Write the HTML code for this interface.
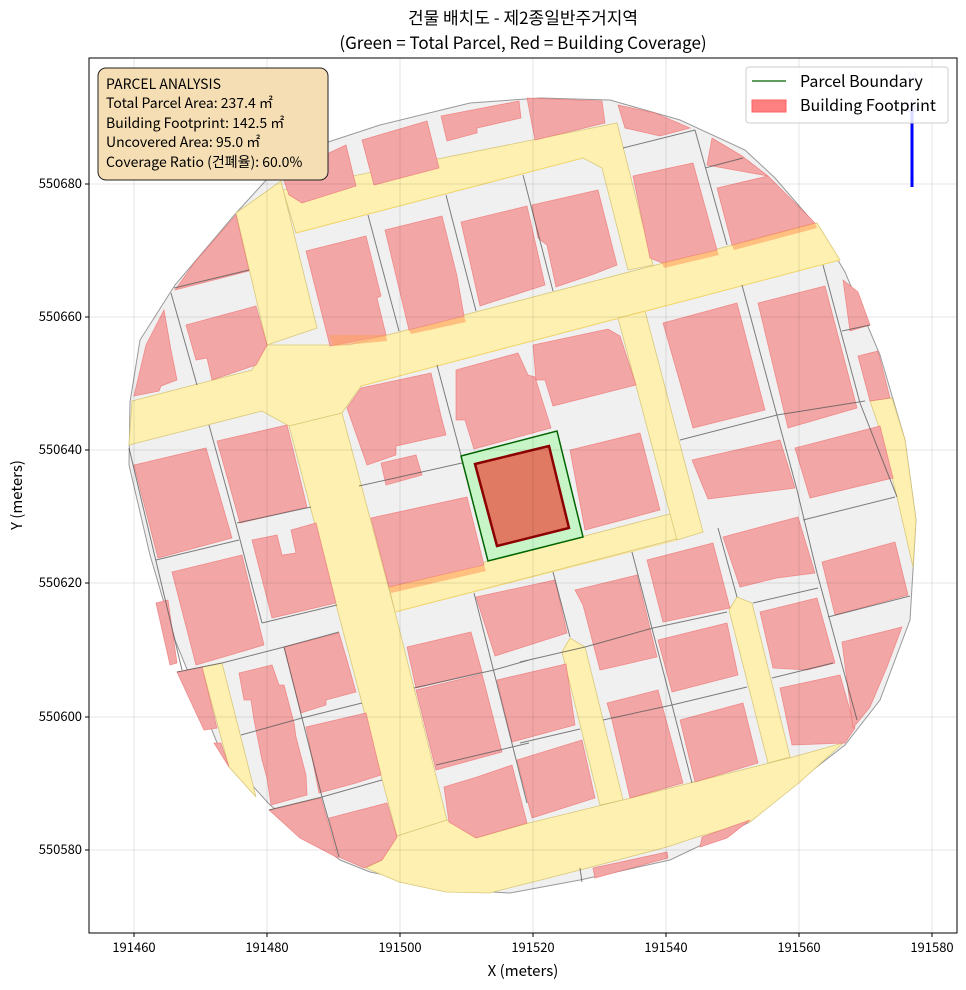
<!DOCTYPE html>
<html><head><meta charset="utf-8"><style>
html,body{margin:0;padding:0;background:#fff;}
svg{display:block;font-family:"Noto Sans CJK KR","Liberation Sans",sans-serif;}
</style></head><body>
<svg width="966" height="990" viewBox="0 0 966 990" xmlns="http://www.w3.org/2000/svg">
<rect width="966" height="990" fill="#fff"/>
<text x="523" y="24" font-size="17" text-anchor="middle" fill="#000">건물 배치도 - 제2종일반주거지역</text>
<text x="523" y="49" font-size="17" text-anchor="middle" fill="#000">(Green = Total Parcel, Red = Building Coverage)</text>

<clipPath id="cp"><rect x="89" y="58" width="868" height="875"/></clipPath>
<g clip-path="url(#cp)">
<polygon fill="#f0f0f0" stroke="#999" stroke-width="1" points="130,402 129,465 150,555 175,640 220,750 270,805 340,860 370,872 460,890 510,893 580,880 670,860 750,822 800,780 845,745 880,700 910,620 916,520 905,440 880,355 845,272 820,230 775,178 745,150 680,120 610,100 540,98 470,103 380,125 310,148 280,165 237,212 175,285 140,340"/>
<g fill="#fef0b0" stroke="#d9c87a" stroke-width="0.8">
<polygon points="283,190 617,123 653,265 628,270 602,168 583,158 296,233"/>
<polygon points="236,213 281,181 317,328 267,345"/>
<polygon points="132,401 252,370 267,345 349,345 817,223 840,260 361,386 342,413 289,426 262,411 129,445"/>
<polygon points="289,426 342,413 395,612 447,820 397,836"/>
<polygon points="389,587 677,512 703,532 395,612"/>
<polygon points="618,318 645,311 703,532 677,540"/>
<polygon points="870,401 892,398 905,440 916,520 913,567 897,497 880,430"/>
<polygon points="562,652 570,638 585,647 623,800 600,805"/>
<polygon points="729,610 737,597 752,603 790,757 768,763"/>
<polygon points="202,667 222,663 256,797 229,767"/>
<polygon points="397,836 447,820 476,838 529,823 623,800 793,757 843,743 800,782 750,822 697,837 667,847 580,870 529,883 489,893 446,892 399,882 366,868 382,860"/>
</g>
<g fill="none" stroke="#fbd860" stroke-width="1" opacity="0.7">
<polyline points="296,233 583,158"/><polyline points="361,386 840,260"/><polyline points="395,612 677,540"/>
</g>
<g fill="#f2a6a6" stroke="#f07070" stroke-width="0.8" stroke-opacity="0.7">
<polygon points="282,175 346,145 356,186 302,203 289,195"/>
<polygon points="362,140 427,121 439,168 374,185"/>
<polygon points="441,116 519,101 521,118 477,128 477,133 447,141"/>
<polygon points="527,98 602,101 605,123 535,140"/>
<polygon points="618,105 655,113 690,128 660,136 625,128"/>
<polygon points="712,138 742,156 768,176 707,165"/>
<polygon points="306,251 366,236 381,296 377,298 386,335 330,346"/>
<polygon points="385,230 442,216 457,276 464,316 409,330"/>
<polygon points="461,222 527,206 545,285 480,306"/>
<polygon points="532,205 598,190 617,265 594,274 556,287 547,245 538,238"/>
<polygon points="633,176 693,163 717,250 662,263 650,258"/>
<polygon points="717,188 768,176 815,223 732,245"/>
<polygon points="175,290 195,262 236,215 249,271"/>
<polygon points="186,325 256,306 267,345 256,365 212,380 207,358 196,360"/>
<polygon points="134,396 146,345 164,310 171,350 177,380 161,386 159,391"/>
<polygon points="134,465 206,448 232,538 158,558"/>
<polygon points="217,441 287,425 307,507 240,523"/>
<polygon points="172,572 242,555 264,645 196,665"/>
<polygon points="252,540 277,535 282,555 296,553 291,530 316,523 336,603 272,618"/>
<polygon points="156,603 168,600 177,663 170,665"/>
<polygon points="177,672 202,667 217,728 204,730"/>
<polygon points="214,743 221,743 229,767"/>
<polygon points="239,673 272,665 279,685 284,685 294,723 296,737 306,775 307,795 271,805 267,778 262,760 254,720 251,700 244,700"/>
<polygon points="284,647 339,633 347,660 356,692 326,700 326,705 301,713"/>
<polygon points="306,727 366,713 381,775 356,783 319,793"/>
<polygon points="269,810 321,798 338,858 300,838"/>
<polygon points="329,818 387,803 397,837 382,860 364,868 339,857"/>
<polygon points="347,408 361,388 431,373 441,416 446,435 396,446 396,455 367,465"/>
<polygon points="456,370 518,353 528,375 535,377 551,428 474,449 465,420 456,420"/>
<polygon points="381,463 416,455 422,475 386,485"/>
<polygon points="533,345 608,329 620,336 636,385 553,406 545,380 536,380"/>
<polygon points="663,323 737,303 765,410 693,428"/>
<polygon points="758,303 825,286 857,408 788,428"/>
<polygon points="843,280 858,292 870,325 850,331"/>
<polygon points="858,356 878,351 890,398 870,401"/>
<polygon points="570,450 640,433 660,510 585,530"/>
<polygon points="692,460 780,440 795,488 708,499"/>
<polygon points="795,448 880,426 893,478 810,498"/>
<polygon points="371,518 467,497 484,565 389,587"/>
<polygon points="407,647 471,632 482,672 416,688"/>
<polygon points="416,690 482,674 502,752 436,770"/>
<polygon points="444,787 477,777 512,765 527,823 476,838 449,822"/>
<polygon points="476,597 555,580 567,633 495,656"/>
<polygon points="497,680 566,664 575,725 512,742"/>
<polygon points="517,760 582,740 595,798 532,818"/>
<polygon points="575,590 637,575 657,657 600,670 583,605"/>
<polygon points="647,560 713,543 730,608 663,622"/>
<polygon points="723,537 798,517 815,573 777,578 740,587"/>
<polygon points="822,562 895,542 908,595 835,615"/>
<polygon points="658,640 727,623 738,675 672,692"/>
<polygon points="607,703 658,690 683,783 630,798 612,720"/>
<polygon points="680,720 743,703 758,763 695,782"/>
<polygon points="760,612 817,598 835,663 807,670 773,668"/>
<polygon points="780,688 840,675 855,728 845,743 792,745"/>
<polygon points="842,642 902,627 887,667 870,707 853,728"/>
<polygon points="702,837 750,820 727,838 700,847"/>
<polygon points="593,868 667,852 668,858 595,878"/>
</g>
<g fill="#ffa060" opacity="0.6">
<polygon points="389,587 484,565 486,571 391,593"/>
<polygon points="329,335 386,335 387,341 333,346"/>
<polygon points="409,330 464,316 466,322 411,334"/>
<polygon points="662,263 717,250 719,255 664,268"/>
<polygon points="732,245 815,223 817,228 734,250"/>
</g>
<g stroke="#555" stroke-width="1" opacity="0.75" fill="none">
<line x1="368" y1="215" x2="399" y2="331"/><line x1="446" y1="195" x2="476" y2="311"/>
<line x1="523" y1="175" x2="553" y2="291"/><line x1="695" y1="130" x2="727" y2="245"/>
<line x1="823" y1="265" x2="860" y2="403"/><line x1="742" y1="285" x2="797" y2="490"/>
<polyline points="797,490 817,573 857,720"/><line x1="860" y1="403" x2="897" y2="497"/>
<line x1="623" y1="148" x2="695" y2="130"/><line x1="705" y1="168" x2="743" y2="158"/>
<line x1="842" y1="331" x2="870" y2="325"/><polyline points="680,440 777,415 865,401"/>
<line x1="174" y1="288" x2="249" y2="270"/><line x1="359" y1="486" x2="462" y2="463"/>
<line x1="171" y1="293" x2="197" y2="385"/><polyline points="209,425 229,498 262,623"/>
<line x1="129" y1="448" x2="182" y2="670"/><line x1="437" y1="365" x2="461" y2="455"/>
<line x1="156" y1="560" x2="239" y2="540"/><line x1="237" y1="523" x2="311" y2="507"/>
<line x1="262" y1="623" x2="337" y2="605"/><polyline points="177,672 222,663 284,647 339,632"/>
<polyline points="241,735 302,718 362,703"/><polyline points="269,810 322,797 382,780"/>
<polyline points="284,647 322,797 339,857"/>
<polyline points="414,688 494,670 529,660"/><polyline points="436,765 512,747 529,743"/>
<line x1="474" y1="593" x2="527" y2="803"/>
<polyline points="520,662 585,647 653,628 727,612"/><line x1="553" y1="572" x2="570" y2="637"/>
<polyline points="632,552 672,705 692,783"/><line x1="718" y1="528" x2="737" y2="597"/>
<polyline points="603,720 672,705 747,687"/><line x1="520" y1="743" x2="580" y2="729"/>
<line x1="803" y1="520" x2="895" y2="497"/><line x1="753" y1="603" x2="818" y2="588"/>
<line x1="828" y1="617" x2="910" y2="596"/><line x1="772" y1="678" x2="833" y2="663"/>
<line x1="580" y1="868" x2="582" y2="882"/>
</g>
<polygon points="461,456 557,431 583,537 488,561" fill="#c8f5c8" stroke="#006400" stroke-width="1.5"/>
<polygon points="475,464 549,446 569,528 497,546" fill="#e07a63" stroke="#8b0000" stroke-width="2.5"/>
<g stroke="#000" stroke-opacity="0.1" stroke-width="1">
<line x1="134" y1="58" x2="134" y2="933"/><line x1="267" y1="58" x2="267" y2="933"/>
<line x1="400" y1="58" x2="400" y2="933"/><line x1="533" y1="58" x2="533" y2="933"/>
<line x1="666" y1="58" x2="666" y2="933"/><line x1="799" y1="58" x2="799" y2="933"/>
<line x1="932" y1="58" x2="932" y2="933"/>
<line x1="89" y1="184" x2="957" y2="184"/><line x1="89" y1="317" x2="957" y2="317"/>
<line x1="89" y1="450" x2="957" y2="450"/><line x1="89" y1="583" x2="957" y2="583"/>
<line x1="89" y1="717" x2="957" y2="717"/><line x1="89" y1="850" x2="957" y2="850"/>
</g>
<line x1="912" y1="110" x2="912" y2="187" stroke="#0000ff" stroke-width="3"/>
<polygon points="906,112 912,98 918,112" fill="#0000ff" opacity="0.3"/>
<text x="912" y="82" font-size="14" text-anchor="middle" fill="#0000ff" opacity="0.3">N</text>
</g>
<rect x="89" y="58" width="868" height="875" fill="none" stroke="#000" stroke-width="1"/>

<rect x="98" y="68" width="230" height="112" rx="8" fill="#f5deb3" stroke="#222" stroke-width="1"/>
<g font-size="14" fill="#000">
<text x="106" y="89">PARCEL ANALYSIS</text>
<text x="106" y="108">Total Parcel Area: 237.4 ㎡</text>
<text x="106" y="128">Building Footprint: 142.5 ㎡</text>
<text x="106" y="147">Uncovered Area: 95.0 ㎡</text>
<text x="106" y="167">Coverage Ratio (건폐율): 60.0%</text>
</g>

<rect x="746" y="67" width="202" height="56" rx="3" fill="#fff" fill-opacity="0.85" stroke="#ccc"/>
<line x1="752" y1="81" x2="786" y2="81" stroke="#006400" stroke-width="1.2"/>
<text x="800" y="87" font-size="16" fill="#000">Parcel Boundary</text>
<rect x="752" y="100" width="34" height="12" fill="#ff8080" stroke="#ff6060"/>
<text x="800" y="111" font-size="16" fill="#000">Building Footprint</text>

<g stroke="#000" stroke-width="1">
<line x1="134" y1="933" x2="134" y2="937"/><line x1="267" y1="933" x2="267" y2="937"/>
<line x1="400" y1="933" x2="400" y2="937"/><line x1="533" y1="933" x2="533" y2="937"/>
<line x1="666" y1="933" x2="666" y2="937"/><line x1="799" y1="933" x2="799" y2="937"/>
<line x1="932" y1="933" x2="932" y2="937"/>
<line x1="85" y1="184" x2="89" y2="184"/><line x1="85" y1="317" x2="89" y2="317"/>
<line x1="85" y1="450" x2="89" y2="450"/><line x1="85" y1="583" x2="89" y2="583"/>
<line x1="85" y1="717" x2="89" y2="717"/><line x1="85" y1="850" x2="89" y2="850"/>
</g>
<g font-size="13" fill="#000" text-anchor="middle">
<text x="134" y="952">191460</text><text x="267" y="952">191480</text><text x="400" y="952">191500</text>
<text x="533" y="952">191520</text><text x="666" y="952">191540</text><text x="799" y="952">191560</text>
<text x="932" y="952">191580</text>
</g>
<g font-size="13" fill="#000" text-anchor="end">
<text x="82" y="188">550680</text><text x="82" y="321">550660</text><text x="82" y="454">550640</text>
<text x="82" y="587">550620</text><text x="82" y="721">550600</text><text x="82" y="854">550580</text>
</g>
<text x="523" y="976" font-size="15" text-anchor="middle" fill="#000">X (meters)</text>
<text x="0" y="0" font-size="15" text-anchor="middle" fill="#000" transform="translate(22,495) rotate(-90)">Y (meters)</text>
</svg>
</body></html>
